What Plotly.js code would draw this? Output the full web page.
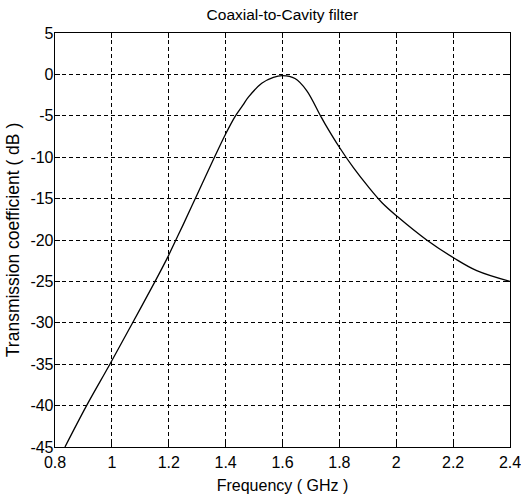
<!DOCTYPE html>
<html>
<head>
<meta charset="utf-8">
<script src="https://cdn.plot.ly/plotly-3.0.1.min.js"></script>
<style>html,body{margin:0;padding:0;background:#fff;}#chart{width:521px;height:499px;}</style>
</head>
<body>
<div id="chart"></div>
<script>
const freqGHz = [0.835, 0.911, 0.993, 1.073, 1.152, 1.196, 1.225, 1.25, 1.30, 1.35, 1.40, 1.433, 1.46, 1.48, 1.527, 1.568, 1.6, 1.644, 1.685, 1.732, 1.75, 1.8, 1.85, 1.9, 1.95, 2.005, 2.107, 2.204, 2.283, 2.4];
const transmissionDb = [-45, -40, -35, -30, -25, -22.1, -20, -18.2, -14.5, -10.8, -7.2, -5.1, -3.75, -2.75, -1.07, -0.35, -0.15, -0.5, -1.95, -4.9, -6.0, -8.8, -11.3, -13.5, -15.5, -17.2, -20, -22.2, -23.7, -25];
const xTicks = [0.8, 1, 1.2, 1.4, 1.6, 1.8, 2, 2.2, 2.4];
const yTicks = [5, 0, -5, -10, -15, -20, -25, -30, -35, -40, -45];

const font = 'Liberation Sans, Arial, sans-serif';
const axisCommon = {
  showline: true, mirror: 'ticks', linecolor: '#000', linewidth: 1.3,
  ticks: 'inside', ticklen: 5, tickcolor: '#000',
  showgrid: true, gridcolor: '#000', gridwidth: 1, griddash: '4px,3px',
  zeroline: false, tickfont: {family: font, size: 16, color: '#000'},
  automargin: false, ticklabeloverflow: 'allow'
};
Plotly.newPlot('chart', [{
  x: freqGHz, y: transmissionDb, type: 'scatter', mode: 'lines',
  line: {color: '#000', width: 1.3, shape: 'spline', smoothing: 1},
  hoverinfo: 'skip'
}], {
  width: 521, height: 499,
  margin: {l: 55, r: 11, t: 33, b: 52},
  paper_bgcolor: '#fff', plot_bgcolor: '#fff',
  showlegend: false,
  title: {text: 'Coaxial-to-Cavity filter', font: {family: font, size: 15.5, color: '#000'}, x: 0.542, xanchor: 'center', y: 0.97, yanchor: 'middle'},
  xaxis: Object.assign({}, axisCommon, {
    range: [0.8, 2.4], tickvals: xTicks, ticktext: xTicks.map(String),
    title: {text: 'Frequency ( GHz )', font: {family: font, size: 16, color: '#000'}, standoff: 10}
  }),
  yaxis: Object.assign({}, axisCommon, {
    range: [-45, 5], tickvals: yTicks, ticktext: yTicks.map(String),
    ticklabelstandoff: -3,
    title: {text: 'Transmission coefficient ( dB )', font: {family: font, size: 17.5, color: '#000'}, standoff: 6}
  })
}, {staticPlot: true});
</script>
</body>
</html>
